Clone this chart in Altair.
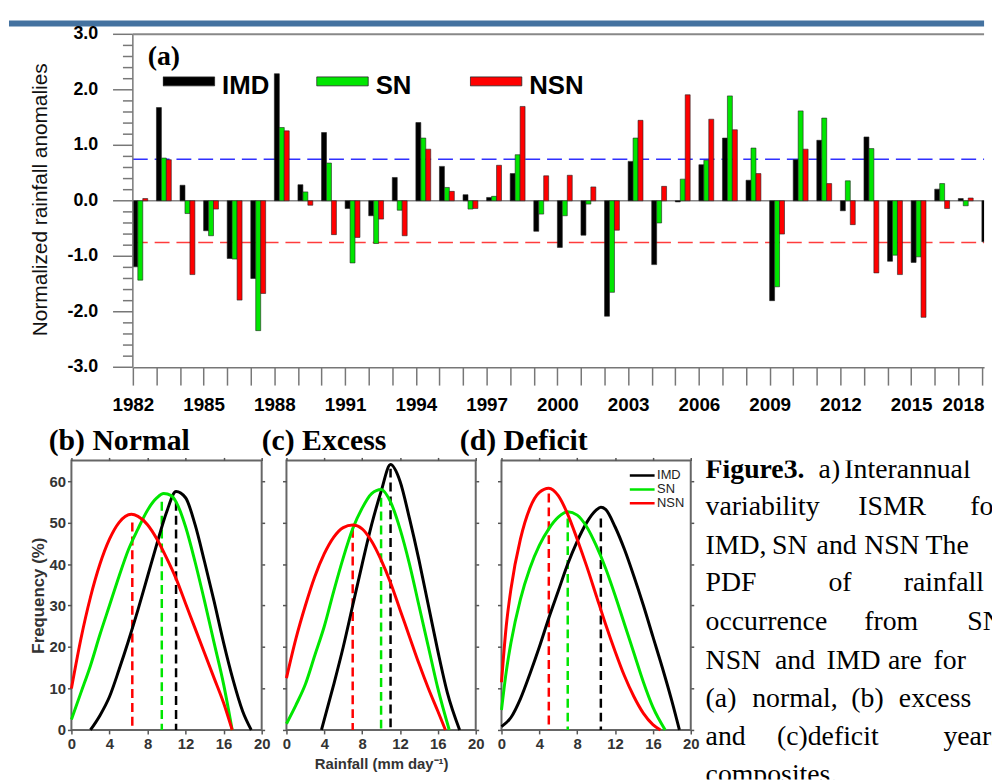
import altair as alt
import pandas as pd

# ---------------- panel (a): normalized ISMR anomalies ----------------
years = list(range(1982, 2019))
imd_anom = [-1.19, 1.68, 0.28, -0.54, -1.04, -1.40, 2.29, 0.29, 1.23, -0.14,
            -0.27, 0.42, 1.41, 0.62, 0.11, 0.06, 0.49, -0.55, -0.84, -0.62,
            -2.08, 0.71, -1.15, -0.02, 0.65, 1.13, 0.37, -1.80, 0.74, 1.09,
            -0.18, 1.15, -1.09, -1.11, 0.21, 0.04, -0.74]
sn_anom = [-1.43, 0.77, -0.23, -0.63, -1.05, -2.34, 1.32, 0.16, 0.68, -1.12,
           -0.77, -0.17, 1.13, 0.24, -0.15, 0.08, 0.83, -0.24, -0.27, -0.06,
           -1.65, 1.13, -0.40, 0.39, 0.73, 1.89, 0.95, -1.55, 1.62, 1.49,
           0.36, 0.94, -0.98, -1.01, 0.31, -0.09, -0.66]
nsn_anom = [0.04, 0.74, -1.33, -0.15, -1.79, -1.67, 1.26, -0.08, -0.61, -0.66,
            -0.33, -0.63, 0.93, 0.17, -0.14, 0.64, 1.70, 0.45, 0.46, 0.25,
            -0.53, 1.45, 0.26, 1.91, 1.47, 1.28, 0.49, -0.60, 0.93, 0.31,
            -0.43, -1.30, -1.33, -2.10, -0.14, 0.05, -0.45]
series = ["IMD", "SN", "NSN"]
bar_colors = ["#000000", "#00e600", "#ff0000"]
line_colors = ["#000000", "#00e600", "#ff0000"]
upper_thr = 0.75
lower_thr = -0.75
y_major_a = [-3, -2, -1, 0, 1, 2, 3]
y_major_labels = [f"{v:.1f}" for v in y_major_a]
y_minor_a = [round(-3 + 0.2 * i, 1) for i in range(31) if i % 5 != 0]

# ---------------- PDFs (x: rainfall mm/day, y: frequency %) ----------------
normal_imd_x = [2.0, 3, 4, 5, 6, 7, 8, 9, 10, 11, 12, 13, 14, 15, 16, 17, 18, 18.9]
normal_imd_y = [0, 3.5, 8, 14.5, 21.5, 29, 37, 45, 52.5, 57.5, 56, 49.5, 40.5, 31, 21, 12, 4.5, 0]
normal_sn_x = [0, 1, 2, 3, 4, 5, 6, 7, 8, 9, 9.7, 10.5, 11, 12, 13, 14, 15, 16, 16.9]
normal_sn_y = [2.5, 9, 15.5, 23, 30, 37, 43.5, 48.5, 53, 56, 57, 56.5, 55, 49, 40.5, 31, 21, 11, 0]
normal_nsn_x = [0, 1, 2, 3, 4, 5, 6.3, 7, 8, 9, 10, 11, 12, 13, 14, 15, 16, 16.9]
normal_nsn_y = [10, 22, 32, 40, 46, 50, 52, 51.5, 49.5, 46, 41.5, 36.5, 30.5, 24.5, 18.5, 12.5, 6.5, 0]

excess_imd_x = [3.7, 5, 6, 7, 8, 9, 10, 11, 12, 13, 14, 15, 16, 17, 18.3]
excess_imd_y = [0, 11, 20, 30, 40, 49.5, 57.5, 64, 60, 51, 41, 30, 19, 9, 0]
excess_sn_x = [0, 1, 2, 3, 4, 5, 6, 7, 8, 9, 10, 11, 12, 13, 14, 15, 16, 17.2]
excess_sn_y = [1.5, 6, 11, 18, 25, 33.5, 41.5, 48.5, 53.5, 57, 58, 55, 48.5, 40, 30, 20, 10, 0]
excess_nsn_x = [0, 1, 2, 3, 4, 5, 6, 7, 8, 9, 10, 11, 12, 13, 14, 15, 16, 16.8]
excess_nsn_y = [12.5, 22, 30, 37, 42.5, 46.5, 48.8, 49.4, 48.5, 45.5, 41, 35.5, 29, 22.5, 16, 10, 4.5, 0]

deficit_imd_x = [0, 1, 2, 3, 4, 5, 6, 7, 8, 9, 10, 10.5, 11, 12, 13, 14, 15, 16, 17, 18, 18.8]
deficit_imd_y = [0.8, 3, 7.5, 13.5, 20, 27, 33.5, 40, 45.5, 50, 53, 53.7, 53.2, 49, 43.5, 37, 30, 22.5, 15, 7, 0]
deficit_sn_x = [0, 0.5, 1, 2, 3, 4, 5, 6, 7, 8, 9, 10, 11, 12, 13, 14, 15, 16, 17.3]
deficit_sn_y = [4.8, 14, 21, 31.5, 39, 44.5, 48.5, 51.3, 52.6, 51.8, 49, 44.5, 39, 32.5, 25.5, 18.5, 11.5, 5.5, 0]
deficit_nsn_x = [0, 0.5, 1, 2, 3, 4, 5, 6, 7, 8, 9, 10, 11, 12, 13, 14, 15, 16, 16.8]
deficit_nsn_y = [11.5, 25, 34, 46, 53.5, 57.3, 58.3, 56.5, 52, 46, 39.5, 32.5, 25.5, 19, 13, 8, 4, 1.3, 0]

# modes (dashed verticals): x position and height, order IMD, SN, NSN
normal_mode_x = [11.0, 9.5, 6.4]
normal_mode_top = [55, 55, 50]
excess_mode_x = [11.0, 10.0, 7.0]
excess_mode_top = [63, 56, 48.5]
deficit_mode_x = [10.5, 7.0, 5.0]
deficit_mode_top = [51, 51, 57]

pdf_ticks_x = [0, 4, 8, 12, 16, 20]
pdf_ticks_y = [0, 10, 20, 30, 40, 50, 60]

# ---------------- caption text ----------------
caption_words = [
    ["Figure3.", "a)", "Interannual"],
    ["variability", "ISMR", "for"],
    ["IMD,", "SN", "and", "NSN", "The"],
    ["PDF", "of", "rainfall"],
    ["occurrence", "from", "SN,"],
    ["NSN", "and", "IMD", "are", "for"],
    ["(a)", "normal,", "(b)", "excess"],
    ["and", "(c)deficit", "years"],
    ["composites."],
]
# layout (page pixel x of each word start, page baseline of each line)
caption_word_x = [
    [703, 817, 843], [703, 857, 970], [703, 770, 815, 863, 925],
    [703, 827, 903], [703, 863, 967], [703, 773, 825, 887, 933],
    [703, 750, 850, 898], [703, 775, 943], [703],
]
caption_baselines = [478, 515, 554, 592, 631, 670, 709, 747, 786]

SANS = "Liberation Sans"
SERIF = "Liberation Serif"
one = pd.DataFrame({"v": [0]})


def white_anchor(x, y):
    return alt.Chart(one).mark_rect(color="white").encode(
        x=alt.value(x), x2=alt.value(x + 1), y=alt.value(y), y2=alt.value(y + 1))


# ================= top chart =================
# group origin at page (71, 31); the plotted axis starts 62 px to the right
W1, H1 = 921, 336
X0 = 62
PX_PER_YEAR = 23.8
BW = 5 / PX_PER_YEAR
rows = []
for i, yr in enumerate(years):
    for k, vals in enumerate([imd_anom, sn_anom, nsn_anom]):
        rows.append({"year": yr, "series": series[k], "k": k, "value": vals[i]})
bar_df = pd.DataFrame(rows)

xs_a = alt.Scale(domain=[1982, 1982 + (W1 - X0) / PX_PER_YEAR], range=[X0, W1], nice=False, zero=False)
ys_a = alt.Scale(domain=[-3, 3], nice=False)

x_axis_a = alt.Axis(
    values=years, format="d",
    labelExpr="(datum.value - 1982) % 3 == 0 ? datum.label : ''",
    tickSize=18, tickColor="#777", tickWidth=1.5,
    domainColor="#777", domainWidth=1.5,
    labelFont=SANS, labelFontSize=19, labelFontWeight="bold", labelColor="black",
    labelPadding=11, labelOverlap=False, labelFlush=False, grid=False, title=None,
    labelAlign={"condition": {"test": "datum.value == 2018", "value": "right"}, "value": "center"},
    labelOffset={"condition": {"test": "datum.value == 2018", "value": 2}, "value": 0},
)
legend_a = alt.Legend(
    orient="none", legendX=X0 + 30, legendY=37, direction="horizontal", columns=3,
    gridAlign="all", columnPadding=40, symbolType="M-1,-0.346H1V0H-1Z",
    symbolSize=2704, symbolStrokeColor="#222", symbolStrokeWidth=0.8, symbolOpacity=1,
    labelFont=SANS, labelFontSize=26, labelFontWeight="bold", labelColor="black",
    labelOffset=7, clipHeight=30, title=None, padding=0, labelLimit=300,
)

bars = alt.Chart(bar_df).transform_calculate(
    x0=f"datum.year + datum.k * {BW}", x1=f"datum.year + (datum.k + 1) * {BW}"
).mark_bar(clip=True, stroke="#222", strokeWidth=0.6).encode(
    x=alt.X("x0:Q", scale=xs_a, axis=x_axis_a),
    x2="x1:Q",
    y=alt.Y("value:Q", scale=ys_a, axis=None),
    y2=alt.datum(0),
    color=alt.Color("series:N", scale=alt.Scale(domain=series, range=bar_colors),
                    legend=legend_a, sort=series),
)

# y axis of panel (a), drawn at the plotted axis position X0
minor_df = pd.DataFrame({"t": y_minor_a})
major_df = pd.DataFrame({"t": y_major_a, "lab": y_major_labels})
minor_ticks = alt.Chart(minor_df).mark_rule(color="#777", strokeWidth=1.5).encode(
    y=alt.Y("t:Q", scale=ys_a, axis=None), x=alt.value(X0 - 10), x2=alt.value(X0))
major_ticks = alt.Chart(major_df).mark_rule(color="#777", strokeWidth=1.5).encode(
    y=alt.Y("t:Q", scale=ys_a, axis=None), x=alt.value(X0 - 20), x2=alt.value(X0))
major_labels = alt.Chart(major_df).mark_text(
    font=SANS, fontSize=18, fontWeight="bold", color="black", align="right", baseline="middle"
).encode(y=alt.Y("t:Q", scale=ys_a, axis=None), x=alt.value(X0 - 35), text="lab:N")
y_domain = alt.Chart(one).mark_rule(color="#777", strokeWidth=1.5).encode(
    x=alt.value(X0), x2=alt.value(X0), y=alt.value(0), y2=alt.value(H1))
y_title = alt.Chart(one).mark_text(
    text="Normalized rainfall anomalies", font=SANS, fontSize=21, color="#111",
    angle=270, align="center", baseline="middle").encode(x=alt.value(-31), y=alt.value(167))


def hline(v, color, width, dash=None):
    kw = dict(color=color, strokeWidth=width)
    if dash:
        kw["strokeDash"] = dash
    return alt.Chart(one).mark_rule(**kw).encode(
        y=alt.YDatum(v, axis=None), x=alt.value(X0), x2=alt.value(W1))


frame_top = hline(3, "#888", 2)
zero_line = hline(0, "#888", 1.5)
up_line = hline(upper_thr, "#3030ff", 1.5, [15, 7])
low_line = hline(lower_thr, "#ff3c3c", 1.5, [15, 7])
stripe = alt.Chart(one).mark_rect(color="#4472a0").encode(
    x=alt.value(-63), x2=alt.value(W1), y=alt.value(-14), y2=alt.value(-8))
label_a = alt.Chart(one).mark_text(text="(a)", font=SERIF, fontSize=28, fontWeight="bold",
                                   align="left", baseline="alphabetic", color="black").encode(
    x=alt.value(X0 + 15), y=alt.value(31))

top = alt.layer(
    stripe, white_anchor(-63, -23), white_anchor(-63, 390),
    zero_line, up_line, low_line, bars, minor_ticks, major_ticks, major_labels, y_domain,
    y_title, frame_top, label_a,
).properties(width=W1, height=H1, view=alt.ViewBackground(stroke=None))

# ================= titles row (origin at page x=71) =================
title_df = pd.DataFrame({"t": ["(b) Normal", "(c) Excess", "(d) Deficit"],
                         "px": [-23, 192, 392], "py": [28, 28, 28]})
titles = alt.Chart(title_df).mark_text(font=SERIF, fontSize=30, fontWeight="bold",
                                       align="left", baseline="alphabetic", color="black").encode(
    x=alt.X("px:Q", scale=None, axis=None), y=alt.Y("py:Q", scale=None, axis=None), text="t:N"
).properties(width=600, height=34, view=alt.ViewBackground(stroke=None))


# ================= PDF panels =================
def curves(data):
    r = []
    for name, xs, ys in data:
        for a, b in zip(xs, ys):
            r.append({"series": name, "x": a, "y": b})
    return pd.DataFrame(r)


def panel(df, mode_x, mode_top, width, ylabels, xtitle, legend, left_anchor, right_anchor):
    xs = alt.Scale(domain=[0, 20], nice=False)
    ys = alt.Scale(domain=[0, 65], nice=False)
    col = alt.Scale(domain=series, range=line_colors)
    x_axis = alt.Axis(values=pdf_ticks_x, tickSize=4, tickColor="#555", tickWidth=1.5, domain=False,
                      labelFont=SANS, labelFontSize=15, labelFontWeight="bold", labelColor="#333",
                      labelPadding=3, labelOverlap=False, labelFlush=False, grid=False,
                      title=xtitle if xtitle else None, titleFont=SANS, titleFontSize=15,
                      titleFontWeight="bold", titleColor="#333", titlePadding=5)
    y_kw = dict(values=pdf_ticks_y, tickSize=4, tickColor="#555", tickWidth=1.5, domain=False,
                labels=ylabels, labelFont=SANS, labelFontSize=15, labelFontWeight="bold",
                labelColor="#333", labelPadding=2, labelOverlap=False, grid=False)
    if ylabels:
        y_kw.update(title="Frequency (%)", titleFont=SANS, titleFontSize=17, titleFontWeight="bold",
                    titleColor="#333", titleX=-33, titleY=136, titleAngle=270,
                    titleAlign="center", titleBaseline="middle")
    else:
        y_kw.update(title=None)
    y_axis = alt.Axis(**y_kw)
    top_axis = alt.Axis(orient="top", values=pdf_ticks_x, labels=False, tickSize=3, tickColor="#555",
                        tickWidth=1.5, domain=False, grid=False, title=None)
    right_axis = alt.Axis(orient="right", values=pdf_ticks_y, labels=False, tickSize=3, tickColor="#555",
                          tickWidth=1.5, domain=False, grid=False, title=None)
    lines = alt.Chart(df).mark_line(strokeWidth=3, interpolate="monotone").encode(
        x=alt.X("x:Q", scale=xs, axis=x_axis),
        y=alt.Y("y:Q", scale=ys, axis=y_axis),
        color=alt.Color("series:N", scale=col, legend=legend, sort=series),
    )
    mdf = pd.DataFrame({"series": series, "mx": mode_x, "top": mode_top})
    modes = alt.Chart(mdf).mark_rule(strokeWidth=2.5, strokeDash=[9, 5]).encode(
        x=alt.X("mx:Q", scale=xs, axis=top_axis),
        y=alt.Y("top:Q", scale=ys, axis=right_axis),
        y2=alt.datum(0),
        color=alt.Color("series:N", scale=col, legend=legend, sort=series),
    )
    return alt.layer(
        white_anchor(left_anchor, -4), white_anchor(right_anchor, -4), modes, lines
    ).resolve_axis(x="independent", y="independent").properties(
        width=width, height=272, view=alt.ViewBackground(stroke="#666", strokeWidth=2))


legend_d = alt.Legend(orient="none", legendX=128, legendY=9, direction="vertical",
                      symbolType="stroke", symbolSize=625, symbolStrokeWidth=2.5,
                      labelFont=SANS, labelFontSize=13, labelColor="#222", labelOffset=1,
                      clipHeight=12.5, rowPadding=0, title=None, padding=0)

pb = panel(curves([("IMD", normal_imd_x, normal_imd_y), ("SN", normal_sn_x, normal_sn_y),
                   ("NSN", normal_nsn_x, normal_nsn_y)]),
           normal_mode_x, normal_mode_top, 192, True, None, None, -63, 202)
pc = panel(curves([("IMD", excess_imd_x, excess_imd_y), ("SN", excess_sn_x, excess_sn_y),
                   ("NSN", excess_nsn_x, excess_nsn_y)]),
           excess_mode_x, excess_mode_top, 191, False, "Rainfall (mm day\u207b\u00b9)", None, -12, 202)
pd_ = panel(curves([("IMD", deficit_imd_x, deficit_imd_y), ("SN", deficit_sn_x, deficit_sn_y),
                    ("NSN", deficit_nsn_x, deficit_nsn_y)]),
            deficit_mode_x, deficit_mode_top, 191, False, None, legend_d, -12, 200)

# ================= caption panel (origin at page (699, 460)) =================
cap_rows = []
for li, words in enumerate(caption_words):
    for wi, w in enumerate(words):
        cap_rows.append({"w": w, "px": caption_word_x[li][wi] - 699,
                         "py": caption_baselines[li] - 460, "bold": (li == 0 and wi == 0)})
cap_df = pd.DataFrame(cap_rows)
cap_base = alt.Chart(cap_df).encode(
    x=alt.X("px:Q", scale=None, axis=None), y=alt.Y("py:Q", scale=None, axis=None), text="w:N")
cap_bold = cap_base.transform_filter("datum.bold").mark_text(
    font=SERIF, fontSize=28, fontWeight="bold", align="left", baseline="alphabetic", color="black", clip=True)
cap_reg = cap_base.transform_filter("!datum.bold").mark_text(
    font=SERIF, fontSize=28, fontWeight="normal", align="left", baseline="alphabetic", color="black", clip=True)
caption = alt.layer(white_anchor(0, -4), cap_bold, cap_reg).properties(
    width=293, height=322, view=alt.ViewBackground(stroke=None))

bottom = alt.ConcatChart(concat=[pb, pc, pd_, caption], columns=4, spacing=0, align="none").resolve_scale(
    color="independent")

chart = alt.ConcatChart(concat=[top, titles, bottom], columns=1, spacing=0, align="none").resolve_scale(
    color="independent").resolve_legend(color="independent").properties(
    padding=0).configure_view(stroke=None)

chart.save("out.html", embed_options={"renderer": "svg", "actions": False})
